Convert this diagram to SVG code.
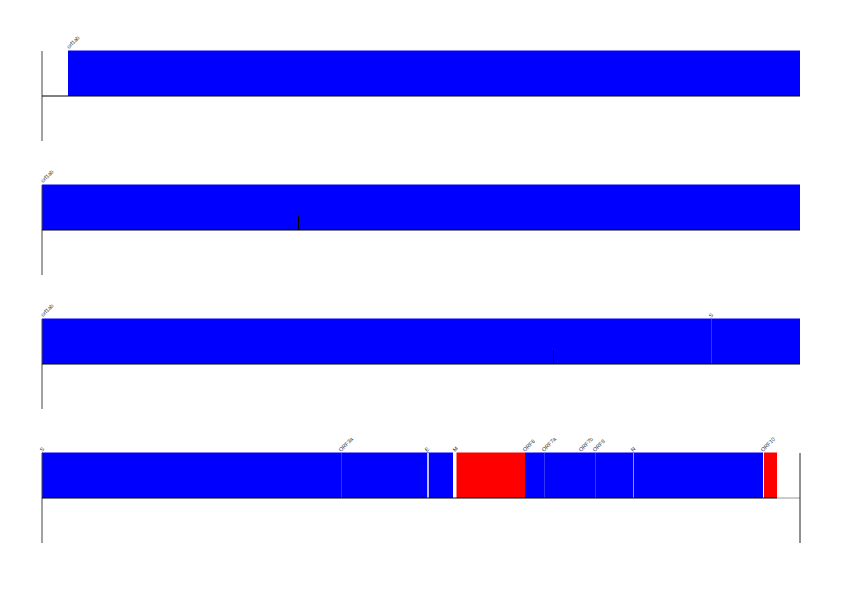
<svg xmlns="http://www.w3.org/2000/svg" width="842" height="595" viewBox="0 0 842 595">
<style>
.bg{fill:#fff}
.b{fill:#0000ff}
.r{fill:#ff0000}
.ax{stroke:#000;stroke-width:1;fill:none}
.vx{stroke:#444;stroke-width:1;fill:none}
.sep{stroke:#3333ff;stroke-width:1}
.wsep{stroke:#fff;stroke-width:1.5}
.tick{stroke:#000;stroke-width:1}
.lbl{font-family:"Liberation Sans",Arial,sans-serif;font-size:5.5px;fill:#333}
</style>
<rect class="bg" x="0" y="0" width="842" height="595"/>
<g id="row1">
<rect class="b" x="68" y="50.5" width="732" height="45.5"/>
<line class="vx" x1="42" y1="51" x2="42" y2="141"/>
<line class="ax" x1="42" y1="96" x2="800" y2="96"/>
<text class="lbl" transform="translate(69,49) rotate(-45)">orf1ab</text>
</g>
<g id="row2">
<rect class="b" x="42" y="184.5" width="758" height="45.5"/>
<line class="vx" x1="42" y1="185" x2="42" y2="275"/>
<line class="tick" x1="298.5" y1="216" x2="298.5" y2="230"/>
<line class="ax" x1="42" y1="230" x2="800" y2="230"/>
<text class="lbl" transform="translate(43,183) rotate(-45)">orf1ab</text>
</g>
<g id="row3">
<rect class="b" x="42" y="318.5" width="758" height="45.5"/>
<line class="sep" x1="711.5" y1="319" x2="711.5" y2="364"/>
<line class="vx" x1="42" y1="319" x2="42" y2="409"/>
<line class="tick" x1="553.5" y1="350" x2="553.5" y2="364"/>
<line class="ax" x1="42" y1="364" x2="800" y2="364"/>
<text class="lbl" transform="translate(43,317) rotate(-45)">orf1ab</text>
<text class="lbl" transform="translate(711,318) rotate(-45)">S</text>
</g>
<g id="row4">
<rect class="b" x="42" y="452.5" width="411" height="45.5"/>
<rect class="r" x="456.5" y="452.5" width="68.5" height="45.5"/>
<rect class="b" x="525" y="452.5" width="238" height="45.5"/>
<rect class="r" x="764" y="452.5" width="13" height="45.5"/>
<line class="sep" x1="341.5" y1="453" x2="341.5" y2="498"/>
<line class="wsep" x1="428" y1="453" x2="428" y2="498"/>
<line class="sep" x1="544.5" y1="453" x2="544.5" y2="498"/>
<line class="sep" x1="595.5" y1="453" x2="595.5" y2="498"/>
<line class="sep" x1="633.5" y1="453" x2="633.5" y2="498" style="stroke:#9090ff"/>
<line class="wsep" x1="763.5" y1="453" x2="763.5" y2="498" style="stroke-width:1"/>
<line class="vx" x1="42" y1="453" x2="42" y2="543"/>
<line class="ax" x1="42" y1="498" x2="777" y2="498"/>
<line x1="777" y1="498" x2="800" y2="498" stroke="#999" stroke-width="1"/>
<line class="ax" x1="800" y1="453" x2="800" y2="543" style="stroke:#222"/>
<text class="lbl" transform="translate(42,452) rotate(-45)">S</text>
<text class="lbl" transform="translate(341,452) rotate(-45)">ORF3a</text>
<text class="lbl" transform="translate(427,452) rotate(-45)">E</text>
<text class="lbl" transform="translate(455,452) rotate(-45)">M</text>
<text class="lbl" transform="translate(525,452) rotate(-45)">ORF6</text>
<text class="lbl" transform="translate(544,452) rotate(-45)">ORF7a</text>
<text class="lbl" transform="translate(581,452) rotate(-45)">ORF7b</text>
<text class="lbl" transform="translate(595,452) rotate(-45)">ORF8</text>
<text class="lbl" transform="translate(633,452) rotate(-45)">N</text>
<text class="lbl" transform="translate(763,452) rotate(-45)">ORF10</text>
</g>
<g id="connectors"></g>
</svg>
